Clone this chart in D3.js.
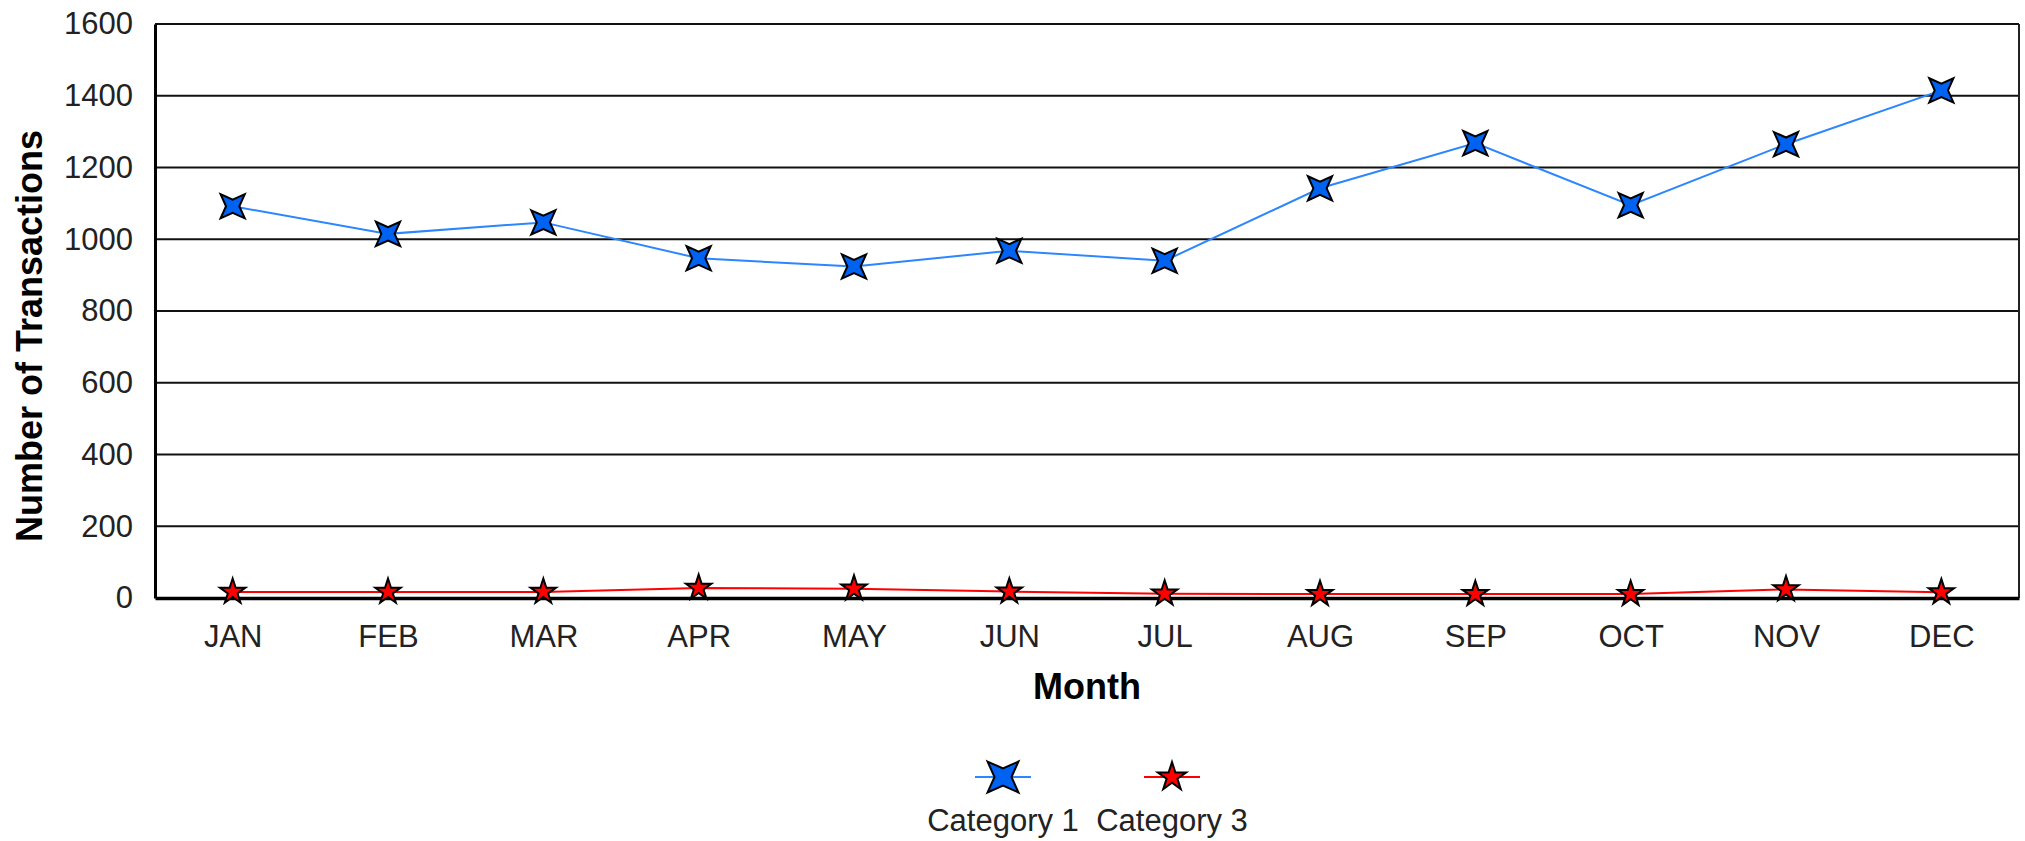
<!DOCTYPE html>
<html>
<head>
<meta charset="utf-8">
<script src="https://cdn.jsdelivr.net/npm/d3@7"></script>
<style>
  body { margin: 0; background: #fff; }
  text { font-family: "Liberation Sans", Arial, sans-serif; }
</style>
</head>
<body>
<svg id="chart" width="2025" height="841"></svg>
<script>
// data
const months = ["JAN", "FEB", "MAR", "APR", "MAY", "JUN", "JUL", "AUG", "SEP", "OCT", "NOV", "DEC"];
const category1 = [1092, 1015, 1047, 947, 924, 968, 940, 1142, 1268, 1095, 1265, 1415];
const category3 = [17, 17, 17, 28, 26, 18, 12, 11, 11, 11, 24, 16];
const yTicks = [0, 200, 400, 600, 800, 1000, 1200, 1400, 1600];
const seriesNames = ["Category 1", "Category 3"];

// plot box
const margin = {top: 24, right: 6, bottom: 243, left: 155},
    width = 2025 - margin.left - margin.right,
    height = 841 - margin.top - margin.bottom;

const svg = d3.select("#chart");
const g = svg.append("g")
    .attr("transform", `translate(${margin.left}, ${margin.top})`);

const x = d3.scalePoint()
    .domain(months)
    .range([0, width])
    .padding(0.5);

const y = d3.scaleLinear()
    .domain([0, 1600])
    .range([height, 0]);

// four point star (points on the diagonals), used for Category 1
const star4 = {
    draw(context, size) {
        const r = Math.sqrt(size) * 0.62;   // corner reach
        const ri = r * 0.55;                // inner pinch
        context.moveTo(-r, -r);
        context.lineTo(0, -ri);
        context.lineTo(r, -r);
        context.lineTo(ri, 0);
        context.lineTo(r, r);
        context.lineTo(0, ri);
        context.lineTo(-r, r);
        context.lineTo(-ri, 0);
        context.closePath();
    }
};

// grid lines
g.append("g")
    .selectAll("line")
    .data(yTicks.filter(d => d > 0))
    .enter()
    .append("line")
        .attr("x1", 0)
        .attr("x2", width)
        .attr("y1", d => y(d))
        .attr("y2", d => y(d))
        .attr("stroke", "#111")
        .attr("stroke-width", 2);

// right border
g.append("line")
    .attr("x1", width).attr("x2", width)
    .attr("y1", 0).attr("y2", height)
    .attr("stroke", "#222")
    .attr("stroke-width", 2);

// Y axis
const yAxis = g.append("g")
    .call(d3.axisLeft(y).tickValues(yTicks).tickFormat(d3.format("d")).tickSize(0).tickPadding(22));
yAxis.select(".domain").attr("stroke", "#000").attr("stroke-width", 3);
yAxis.selectAll("text")
    .style("font-size", "31px")
    .attr("fill", "#222");

// X axis
const xAxis = g.append("g")
    .attr("transform", `translate(0, ${height})`)
    .call(d3.axisBottom(x).tickSize(0).tickPadding(27));
xAxis.select(".domain").attr("stroke", "#000").attr("stroke-width", 3.5);
xAxis.selectAll("text")
    .style("font-size", "31px")
    .attr("fill", "#222");

// axis titles
svg.append("text")
    .attr("x", margin.left + width / 2)
    .attr("y", 699)
    .attr("text-anchor", "middle")
    .style("font-size", "36px")
    .style("font-weight", "bold")
    .text("Month");

svg.append("text")
    .attr("transform", "translate(42, 336) rotate(-90)")
    .attr("text-anchor", "middle")
    .style("font-size", "36px")
    .style("font-weight", "bold")
    .text("Number of Transactions");

// lines
const line = d3.line()
    .x((d, i) => x(months[i]))
    .y(d => y(d));

g.append("path")
    .datum(category3)
    .attr("d", line)
    .attr("fill", "none")
    .attr("stroke", "#ff0000")
    .attr("stroke-width", 2);

g.append("path")
    .datum(category1)
    .attr("d", line)
    .attr("fill", "none")
    .attr("stroke", "#2b86ff")
    .attr("stroke-width", 2);

// markers
const starRed = d3.symbol().type(d3.symbolStar).size(200);
const starBlue = d3.symbol().type(star4).size(380);

g.append("g")
    .selectAll("path")
    .data(category3)
    .enter()
    .append("path")
        .attr("d", starRed)
        .attr("transform", (d, i) => `translate(${x(months[i])}, ${y(d)})`)
        .attr("fill", "#ff0000")
        .attr("stroke", "#000")
        .attr("stroke-width", 2);

g.append("g")
    .selectAll("path")
    .data(category1)
    .enter()
    .append("path")
        .attr("d", starBlue)
        .attr("transform", (d, i) => `translate(${x(months[i])}, ${y(d)})`)
        .attr("fill", "#0062f0")
        .attr("stroke", "#000")
        .attr("stroke-width", 2);

// legend
const legendItems = [
    {name: seriesNames[0], cx: 1003, color: "#2b86ff", fill: "#0062f0", sym: d3.symbol().type(star4).size(620)},
    {name: seriesNames[1], cx: 1172, color: "#ff0000", fill: "#ff0000", sym: d3.symbol().type(d3.symbolStar).size(250)}
];
const legend = svg.append("g");
legendItems.forEach(item => {
    legend.append("line")
        .attr("x1", item.cx - 28).attr("x2", item.cx + 28)
        .attr("y1", 777).attr("y2", 777)
        .attr("stroke", item.color)
        .attr("stroke-width", 2);
    legend.append("path")
        .attr("d", item.sym)
        .attr("transform", `translate(${item.cx}, 777)`)
        .attr("fill", item.fill)
        .attr("stroke", "#000")
        .attr("stroke-width", 2);
    legend.append("text")
        .attr("x", item.cx)
        .attr("y", 831)
        .attr("text-anchor", "middle")
        .style("font-size", "31px")
        .attr("fill", "#222")
        .text(item.name);
});
</script>
</body>
</html>
